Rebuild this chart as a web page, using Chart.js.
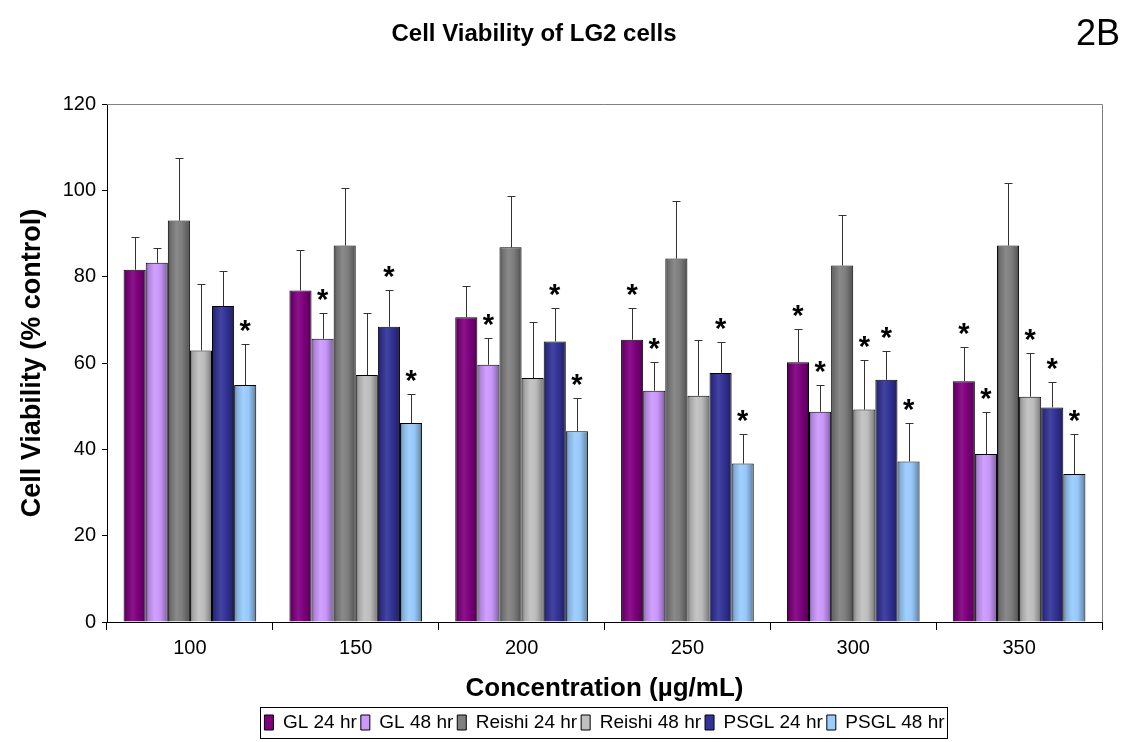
<!DOCTYPE html>
<html><head><meta charset="utf-8">
<script src="https://cdn.jsdelivr.net/npm/chart.js@4.4.1/dist/chart.umd.min.js"></script>
<style>html,body{margin:0;padding:0;background:#fff;}#wrap{width:1123px;height:742px;}</style>
</head><body><div id="wrap"><canvas id="c" width="1123" height="742"></canvas></div>
<script>
// ---- data ----
const categories = ['100', '150', '200', '250', '300', '350'];
const seriesNames = ['GL 24 hr', 'GL 48 hr', 'Reishi 24 hr', 'Reishi 48 hr', 'PSGL 24 hr', 'PSGL 48 hr'];
const gl24 = [81.6, 76.8, 70.6, 65.4, 60.2, 55.8];
const gl48 = [83.2, 65.6, 59.6, 53.6, 48.7, 38.9];
const reishi24 = [93.0, 87.2, 86.8, 84.2, 82.6, 87.2];
const reishi48 = [62.9, 57.2, 56.5, 52.4, 49.2, 52.2];
const psgl24 = [73.2, 68.4, 65.0, 57.7, 56.1, 49.7];
const psgl48 = [54.9, 46.1, 44.2, 36.7, 37.2, 34.3];
const gl24Err = [7.6, 9.3, 7.2, 7.3, 7.7, 7.9];
const gl48Err = [3.4, 5.9, 6.3, 6.6, 6.2, 9.8];
const reishi24Err = [14.4, 13.4, 11.9, 13.4, 11.8, 14.5];
const reishi48Err = [15.5, 14.3, 12.9, 13.0, 11.5, 10.1];
const psgl24Err = [8.2, 8.4, 7.7, 7.1, 6.6, 5.8];
const psgl48Err = [9.4, 6.8, 7.6, 6.8, 8.9, 9.2];
const gl24Sig = [0, 0, 0, 1, 1, 1];
const gl48Sig = [0, 1, 1, 1, 1, 1];
const reishi24Sig = [0, 0, 0, 0, 0, 0];
const reishi48Sig = [0, 0, 0, 0, 1, 1];
const psgl24Sig = [0, 1, 1, 1, 1, 1];
const psgl48Sig = [1, 1, 1, 1, 1, 1];
const yTicks = [0, 20, 40, 60, 80, 100, 120];
const chartTitle = 'Cell Viability of LG2 cells';
const panelLabel = '2B';

// ---- styles ----
const colors = ['#800080', '#CC99FF', '#808080', '#C0C0C0', '#333399', '#99CCFF'];
const SANS = '"Liberation Sans", Arial, sans-serif';

const values = [gl24, gl48, reishi24, reishi48, psgl24, psgl48];
const errors = [gl24Err, gl48Err, reishi24Err, reishi48Err, psgl24Err, psgl48Err];
const sigs = [gl24Sig, gl48Sig, reishi24Sig, reishi48Sig, psgl24Sig, psgl48Sig];

function hexToRgb(h) { const n = parseInt(h.slice(1), 16); return [(n >> 16) & 255, (n >> 8) & 255, n & 255]; }
function shade(h, f) { const c = hexToRgb(h); return 'rgb(' + c.map(v => Math.round(f >= 1 ? v + (255 - v) * (f - 1) : v * f)).join(',') + ')'; }

function barFill(ctx) {
  const base = colors[ctx.datasetIndex];
  if (ctx.type !== 'data') return base;
  const xs = ctx.chart.scales.x;
  if (!xs || !isFinite(xs.getPixelForValue(0))) return base;
  const n = ctx.chart.data.datasets.length;
  const catW = xs.width / categories.length;
  const barW = catW * 0.8 / n;
  const left = xs.getPixelForValue(ctx.dataIndex) - catW * 0.4 + ctx.datasetIndex * barW;
  const g = ctx.chart.ctx.createLinearGradient(left, 0, left + barW, 0);
  g.addColorStop(0, shade(base, 0.5));
  g.addColorStop(0.12, shade(base, 0.85));
  g.addColorStop(0.4, shade(base, 1.08));
  g.addColorStop(0.65, shade(base, 0.98));
  g.addColorStop(0.88, shade(base, 0.75));
  g.addColorStop(1, shade(base, 0.55));
  return g;
}

const datasets = seriesNames.map((name, i) => ({
  label: name,
  data: values[i],
  backgroundColor: barFill,
  borderColor: '#000',
  borderWidth: 1,
  categoryPercentage: 0.8,
  barPercentage: 1.0
}));

const extras = {
  id: 'extras',
  beforeDraw(chart) {
    const c = chart.ctx; c.save(); c.fillStyle = '#fff'; c.fillRect(0, 0, chart.width, chart.height); c.restore();
  },
  afterDatasetsDraw(chart) {
    const c = chart.ctx, ys = chart.scales.y, a = chart.chartArea;
    c.save();
    c.strokeStyle = '#808080'; c.lineWidth = 1;
    c.beginPath(); c.moveTo(a.left, a.top + 0.5); c.lineTo(a.right + 0.5, a.top + 0.5); c.lineTo(a.right + 0.5, a.bottom); c.stroke();
    chart.data.datasets.forEach((ds, di) => {
      const meta = chart.getDatasetMeta(di);
      meta.data.forEach((el, j) => {
        const v = values[di][j], e = errors[di][j];
        const x = Math.round(el.x) + 0.5;
        const yTop = Math.round(ys.getPixelForValue(v + e)) + 0.5;
        c.strokeStyle = '#333'; c.lineWidth = 1;
        c.beginPath(); c.moveTo(x, el.y); c.lineTo(x, yTop);
        c.moveTo(x - 4, yTop); c.lineTo(x + 4, yTop); c.stroke();
        if (sigs[di][j]) {
          c.fillStyle = '#000'; c.font = 'bold 29px ' + SANS; c.textAlign = 'center'; c.textBaseline = 'alphabetic';
          c.fillText('*', el.x, yTop - 5);
        }
      });
    });
    c.restore();
  },
  afterDraw(chart) {
    const c = chart.ctx; c.save();
    const hb = chart.legend.legendHitBoxes;
    if (hb && hb.length) {
      const l = Math.min(...hb.map(h => h.left)) - 4;
      const r = Math.max(...hb.map(h => h.left + h.width)) + 3;
      const t = Math.min(...hb.map(h => h.top)) - 6;
      c.strokeStyle = '#000'; c.lineWidth = 1;
      c.strokeRect(Math.round(l) + 0.5, Math.round(t) + 0.5, Math.round(r - l), 31);
    }
    c.fillStyle = '#000'; c.textBaseline = 'alphabetic';
    c.font = 'bold 24px ' + SANS; c.textAlign = 'center';
    c.fillText(chartTitle, 534, 41);
    c.font = '36px ' + SANS; c.textAlign = 'right';
    c.fillText(panelLabel, 1120, 45);
    c.restore();
  }
};

new Chart(document.getElementById('c'), {
  type: 'bar',
  data: { labels: categories, datasets },
  options: {
    responsive: false,
    devicePixelRatio: 1,
    animation: false,
    layout: { padding: { left: 0, right: 21, top: 104, bottom: 0 } },
    plugins: {
      title: { display: false },
      legend: {
        position: 'bottom', fullSize: false,
        labels: {
          color: '#000', boxWidth: 9, boxHeight: 15, padding: 4, font: { family: SANS, size: 19 },
          generateLabels(chart) {
            return chart.data.datasets.map((ds, i) => ({ text: ds.label, fillStyle: colors[i], strokeStyle: '#000', lineWidth: 1, hidden: false, datasetIndex: i, fontColor: '#000' }));
          }
        }
      },
      tooltip: { enabled: false }
    },
    scales: {
      x: {
        afterFit(s) { s.height = 87; },
        grid: { offset: true, drawOnChartArea: false, tickLength: 8, color: '#000' },
        border: { color: '#000', width: 1 },
        ticks: { color: '#000', padding: 6, font: { family: SANS, size: 20 } },
        title: { display: true, text: 'Concentration (µg/mL)', color: '#000', font: { family: SANS, size: 26, weight: 'bold' }, padding: { top: 0, bottom: 5 } }
      },
      y: {
        min: 0, max: 120,
        afterFit(s) { s.width = 107; },
        afterBuildTicks(s) { s.ticks = yTicks.map(v => ({ value: v })); },
        grid: { drawOnChartArea: false, tickLength: 5, color: '#000' },
        border: { color: '#000', width: 1 },
        ticks: { color: '#000', padding: 6, font: { family: SANS, size: 20 } },
        title: { display: true, text: 'Cell Viability (% control)', color: '#000', font: { family: SANS, size: 27, weight: 'bold' }, padding: { top: 16, bottom: 0 } }
      }
    }
  },
  plugins: [extras]
});
</script></body></html>
